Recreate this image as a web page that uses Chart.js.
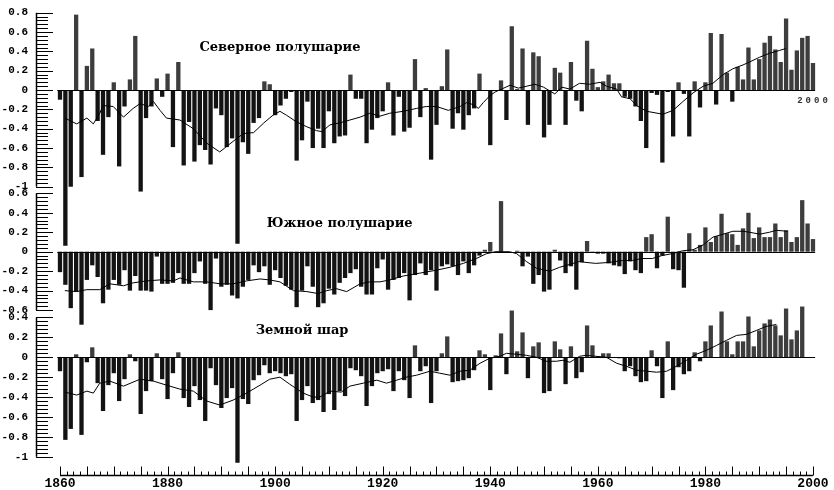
<!DOCTYPE html>
<html>
<head>
<meta charset="utf-8">
<script src="https://cdn.jsdelivr.net/npm/chart.js@4.4.0/dist/chart.umd.min.js"></script>
<style>
  html, body { margin: 0; padding: 0; background: #fff; }
</style>
</head>
<body>
<canvas id="chart" width="834" height="490"></canvas>
<script>
// годы 1860-2000
const firstYear = 1860;
const lastYear = 2000;
const years = [];
for (let y = firstYear; y <= lastYear; y++) years.push(y);

// Северное полушарие, аномалии по годам
const nhValues = [
  -0.10, -1.61, -1.00, 0.78, -0.90, 0.25, 0.43, -0.32, -0.67, -0.28,
  0.08, -0.79, -0.17, 0.11, 0.56, -1.05, -0.29, -0.17, 0.12, -0.07,
  0.17, -0.59, 0.29, -0.78, -0.33, -0.74, -0.57, -0.62, -0.77, -0.19,
  -0.26, -0.59, -0.50, -1.59, -0.54, -0.66, -0.34, -0.29, 0.09, 0.06,
  -0.26, -0.16, -0.09, -0.02, -0.73, -0.52, -0.12, -0.60, -0.40, -0.60,
  -0.22, -0.55, -0.48, -0.47, 0.16, -0.09, -0.09, -0.55, -0.41, -0.29,
  -0.22, 0.08, -0.47, -0.07, -0.43, -0.39, 0.32, -0.28, 0.02, -0.72,
  -0.36, 0.04, 0.42, -0.40, -0.24, -0.41, -0.26, -0.19, 0.17, -0.01,
  -0.57, 0.00, 0.10, -0.31, 0.66, 0.01, 0.43, -0.36, 0.39, 0.35,
  -0.49, -0.36, 0.23, 0.18, -0.36, 0.29, -0.11, -0.22, 0.51, 0.22,
  0.03, 0.09, 0.16, 0.07, 0.07, -0.07, -0.09, -0.17, -0.32, -0.60,
  -0.03, -0.05, -0.75, -0.02, -0.48, 0.08, -0.04, -0.48, 0.09, -0.18,
  0.08, 0.59, -0.15, 0.58, 0.18, -0.12, 0.24, 0.11, 0.44, 0.11,
  0.32, 0.49, 0.56, 0.42, 0.29, 0.74, 0.21, 0.41, 0.54, 0.56,
  0.28
];

// Южное полушарие
const shValues = [
  -0.21, -0.34, -0.58, -0.41, -0.75, -0.29, -0.14, -0.26, -0.53, -0.39,
  -0.29, -0.34, -0.19, -0.40, -0.25, -0.40, -0.40, -0.41, -0.05, -0.33,
  -0.33, -0.32, -0.22, -0.33, -0.33, -0.22, -0.10, -0.33, -0.60, -0.07,
  -0.36, -0.34, -0.45, -0.48, -0.36, -0.29, -0.14, -0.21, -0.15, -0.34,
  -0.19, -0.27, -0.35, -0.39, -0.57, -0.40, -0.15, -0.36, -0.57, -0.53,
  -0.38, -0.44, -0.32, -0.27, -0.22, -0.18, -0.36, -0.44, -0.44, -0.17,
  -0.08, -0.39, -0.29, -0.27, -0.22, -0.50, -0.24, -0.12, -0.24, -0.19,
  -0.40, -0.15, -0.13, -0.15, -0.24, -0.10, -0.22, -0.14, -0.04, 0.02,
  0.10, -0.01, 0.52, 0.00, 0.00, 0.01, -0.15, -0.05, -0.33, -0.24,
  -0.41, -0.39, 0.02, -0.09, -0.22, -0.15, -0.39, -0.11, 0.11, -0.01,
  -0.02, -0.02, -0.12, -0.14, -0.15, -0.23, -0.10, -0.19, -0.22, 0.15,
  0.18, -0.17, -0.04, 0.36, -0.18, -0.19, -0.37, 0.19, 0.02, 0.07,
  0.25, 0.10, 0.16, 0.39, 0.19, 0.18, 0.07, 0.24, 0.40, 0.14,
  0.25, 0.15, 0.15, 0.29, 0.15, 0.22, 0.10, 0.15, 0.53, 0.29,
  0.13
];

// Земной шар
const glValues = [
  -0.14, -0.83, -0.72, 0.03, -0.78, -0.05, 0.10, -0.26, -0.54, -0.28,
  -0.16, -0.44, -0.22, 0.03, -0.04, -0.57, -0.34, -0.24, 0.04, -0.22,
  -0.42, -0.16, 0.05, -0.41, -0.50, -0.29, -0.43, -0.64, -0.11, -0.28,
  -0.51, -0.41, -0.31, -1.06, -0.42, -0.47, -0.23, -0.18, -0.08, -0.16,
  -0.14, -0.16, -0.19, -0.17, -0.64, -0.43, -0.29, -0.46, -0.43, -0.55,
  -0.37, -0.53, -0.34, -0.39, -0.11, -0.13, -0.19, -0.49, -0.29, -0.16,
  -0.14, -0.12, -0.34, -0.14, -0.23, -0.41, 0.12, -0.14, -0.09, -0.46,
  -0.14, 0.04, 0.21, -0.25, -0.24, -0.23, -0.21, -0.13, 0.07, 0.03,
  -0.33, 0.02, 0.24, -0.17, 0.47, 0.06, 0.25, -0.21, 0.11, 0.15,
  -0.36, -0.34, 0.16, 0.08, -0.27, 0.11, -0.21, -0.15, 0.32, 0.12,
  0.01, 0.04, 0.04, 0.00, -0.01, -0.14, -0.09, -0.19, -0.25, -0.24,
  0.07, -0.09, -0.41, 0.16, -0.33, -0.10, -0.17, -0.14, 0.05, -0.04,
  0.16, 0.32, 0.00, 0.46, 0.16, 0.03, 0.16, 0.16, 0.41, 0.11,
  0.27, 0.34, 0.38, 0.32, 0.22, 0.49, 0.18, 0.27, 0.51, null,
  null
];

// сглаженные кривые
const nhLineYears = [1860.9, 1863.1, 1865.0, 1866.2, 1867.4, 1868.0, 1869.9, 1871.8, 1873.6, 1874.9,
  1876.4, 1877.4, 1878.6, 1879.8, 1882.3, 1884.8, 1887.3, 1889.7, 1892.2, 1894.1,
  1896.0, 1897.9, 1899.6, 1900.9, 1902.1, 1904.0, 1905.9, 1907.7, 1908.7, 1910.2,
  1912.0, 1913.9, 1915.8, 1917.6, 1919.5, 1921.3, 1923.8, 1926.3, 1928.1, 1930.0,
  1932.2, 1934.4, 1935.6, 1936.8, 1937.8, 1938.7, 1939.9, 1940.9, 1942.1, 1943.7,
  1945.2, 1946.8, 1948.3, 1949.9, 1951.4, 1952.0, 1953.3, 1954.8, 1956.6, 1958.5,
  1960.4, 1961.6, 1963.5, 1964.4, 1966.0, 1967.2, 1969.1, 1972.1, 1974.0, 1975.8,
  1977.7, 1979.6, 1981.4, 1983.3, 1985.1, 1987.0, 1988.2, 1990.1, 1991.9, 1993.8, 1995.0];
const nhLineValues = [-0.29, -0.35, -0.29, -0.35, -0.24, -0.16, -0.17, -0.28, -0.19, -0.14,
  -0.17, -0.12, -0.21, -0.29, -0.31, -0.40, -0.55, -0.64, -0.53, -0.45,
  -0.44, -0.34, -0.26, -0.22, -0.26, -0.33, -0.38, -0.42, -0.43, -0.36,
  -0.34, -0.31, -0.28, -0.24, -0.27, -0.24, -0.22, -0.19, -0.17, -0.17,
  -0.21, -0.17, -0.13, -0.15, -0.19, -0.13, -0.06, -0.02, 0.01, 0.05,
  0.02, 0.04, 0.06, 0.03, -0.02, -0.04, 0.03, 0.01, 0.07, 0.06,
  0.08, 0.04, 0.01, -0.07, -0.09, -0.16, -0.22, -0.25, -0.21, -0.12,
  -0.03, 0.04, 0.07, 0.16, 0.22, 0.26, 0.29, 0.34, 0.38, 0.41, 0.43];

const shLineYears = [1860.9, 1863.1, 1865.0, 1867.4, 1869.3, 1871.8, 1873.6, 1876.1, 1878.6, 1881.1,
  1882.3, 1884.8, 1887.3, 1889.8, 1892.2, 1894.7, 1897.2, 1899.0, 1900.9, 1903.4,
  1905.9, 1908.0, 1909.6, 1911.4, 1913.3, 1915.8, 1917.6, 1919.5, 1921.3, 1923.8,
  1926.9, 1930.0, 1932.5, 1935.0, 1937.4, 1939.3, 1941.1, 1943.6, 1944.9, 1946.7,
  1948.6, 1951.1, 1952.9, 1954.8, 1956.6, 1957.8, 1959.6, 1962.1, 1964.6, 1966.4,
  1968.2, 1970.1, 1971.9, 1973.8, 1975.8, 1977.7, 1979.6, 1981.4, 1983.3, 1985.1,
  1987.0, 1988.2, 1990.1, 1991.9, 1993.2, 1995.3];
const shLineValues = [-0.40, -0.41, -0.39, -0.39, -0.33, -0.35, -0.32, -0.30, -0.29, -0.30,
  -0.27, -0.31, -0.31, -0.33, -0.33, -0.30, -0.28, -0.29, -0.31, -0.40,
  -0.41, -0.43, -0.40, -0.38, -0.41, -0.33, -0.31, -0.31, -0.29, -0.25,
  -0.22, -0.19, -0.16, -0.12, -0.07, -0.02, 0.00, 0.00, -0.02, -0.10,
  -0.17, -0.20, -0.16, -0.13, -0.10, -0.11, -0.12, -0.11, -0.09, -0.09,
  -0.07, -0.07, -0.04, -0.02, 0.01, 0.02, 0.07, 0.15, 0.18, 0.21,
  0.21, 0.20, 0.18, 0.20, 0.22, 0.21];

const glLineYears = [1860.9, 1863.1, 1865.0, 1866.2, 1867.4, 1869.3, 1871.8, 1874.9, 1877.4, 1879.8,
  1882.3, 1884.8, 1887.3, 1889.7, 1892.2, 1894.7, 1897.2, 1899.0, 1900.9, 1902.7,
  1905.2, 1907.1, 1908.3, 1910.2, 1912.3, 1913.9, 1916.4, 1918.9, 1920.7, 1922.6,
  1924.4, 1926.3, 1928.8, 1930.6, 1932.5, 1934.4, 1936.2, 1938.1, 1939.9, 1941.8,
  1943.0, 1944.9, 1946.7, 1948.6, 1950.4, 1952.3, 1953.5, 1954.8, 1956.6, 1957.8,
  1959.6, 1961.6, 1963.5, 1965.3, 1967.2, 1969.1, 1970.9, 1972.8, 1974.6, 1976.5,
  1978.3, 1980.2, 1982.1, 1983.9, 1985.8, 1987.6, 1989.5, 1991.3, 1993.2];
const glLineValues = [-0.35, -0.38, -0.34, -0.36, -0.26, -0.24, -0.29, -0.22, -0.24, -0.28,
  -0.32, -0.34, -0.44, -0.48, -0.43, -0.36, -0.28, -0.22, -0.20, -0.27,
  -0.36, -0.40, -0.40, -0.34, -0.35, -0.29, -0.26, -0.23, -0.26, -0.23,
  -0.20, -0.18, -0.14, -0.16, -0.18, -0.14, -0.13, -0.06, -0.01, 0.01,
  0.04, 0.03, 0.02, 0.00, -0.04, -0.04, -0.03, -0.05, 0.01, 0.02,
  0.01, 0.00, -0.06, -0.09, -0.13, -0.14, -0.15, -0.14, -0.09, -0.03,
  0.03, 0.07, 0.12, 0.17, 0.22, 0.23, 0.27, 0.31, 0.33];

// подписи осей
const nhTicks = [0.8, 0.6, 0.4, 0.2, 0, -0.2, -0.4, -0.6, -0.8, -1];
const shTicks = [0.6, 0.4, 0.2, 0, -0.2, -0.4, -0.6];
const glTicks = [0.4, 0.2, 0, -0.2, -0.4, -0.6, -0.8, -1];
const xTicks = [1860, 1880, 1900, 1920, 1940, 1960, 1980, 2000];

const panels = [
  { id: 'yN', ticks: nhTicks, title: 'Северное полушарие', tx: 1900.9, ty: 0.44 },
  { id: 'yS', ticks: shTicks, title: 'Южное полушарие', tx: 1912, ty: 0.285 },
  { id: 'yG', ticks: glTicks, title: 'Земной шар', tx: 1905, ty: 0.27 }
];

const barSet = (id, vals) => ({
  type: 'bar',
  yAxisID: id,
  grouped: false,
  clip: false,
  data: vals.map((v, i) => ({ x: years[i], y: v })),
  backgroundColor: c => (c.raw && c.raw.y >= 0) ? '#3d3d3d' : '#131313',
  barPercentage: 0.8,
  categoryPercentage: 1,
  order: 2
});

const lineSet = (id, xs, vs) => ({
  type: 'line',
  yAxisID: id,
  clip: false,
  data: xs.map((x, i) => ({ x: x, y: vs[i] })),
  borderColor: '#000',
  borderWidth: 1,
  pointRadius: 0,
  tension: 0,
  order: 1
});

const fmt = v => v === 0 ? '0' : String(v);

const yScale = (tickList, min, max, stackWeight, weight) => ({
  type: 'linear',
  position: 'left',
  stack: 'panels',
  stackWeight: stackWeight,
  weight: weight,
  min: min,
  max: max,
  grid: { display: false, drawTicks: true, tickLength: 8 },
  border: { display: false },
  ticks: {
    autoSkip: false,
    padding: 0,
    color: '#000',
    font: { family: 'Liberation Mono', weight: 'bold', size: 11 },
    callback: fmt
  },
  afterBuildTicks: s => { s.ticks = tickList.map(v => ({ value: v })); },
  afterFit: s => { s.width = 36; }
});

// оси, нулевые линии, заголовки
const decor = {
  id: 'decor',
  afterDraw(chart) {
    const { ctx, scales, chartArea } = chart;
    const x = scales.x;
    const ax = chartArea.left;
    ctx.save();
    ctx.strokeStyle = '#000';
    ctx.fillStyle = '#000';

    panels.forEach(p => {
      const s = scales[p.id];
      const hi = p.ticks[0], lo = p.ticks[p.ticks.length - 1];
      ctx.lineWidth = 1.5;
      ctx.beginPath();
      ctx.moveTo(ax + 0.5, s.getPixelForValue(hi));
      ctx.lineTo(ax + 0.5, s.getPixelForValue(lo));
      ctx.stroke();
      ctx.lineWidth = 1;
      const n = Math.round((hi - lo) / 0.04);
      for (let i = 0; i <= n; i++) {
        const v = hi - i * 0.04;
        const major = Math.abs(v / 0.2 - Math.round(v / 0.2)) < 1e-6;
        const py = Math.round(s.getPixelForValue(v)) + 0.5;
        ctx.beginPath();
        ctx.moveTo(ax, py);
        ctx.lineTo(ax + (major ? 17 : 12), py);
        ctx.stroke();
      }
      // нулевая линия
      const zy = Math.round(s.getPixelForValue(0)) + 0.5;
      ctx.beginPath();
      ctx.moveTo(x.getPixelForValue(firstYear - 0.5), zy);
      ctx.lineTo(x.getPixelForValue(lastYear + 0.4), zy);
      ctx.stroke();
      // заголовок
      ctx.font = 'bold 13px "DejaVu Serif"';
      ctx.textAlign = 'center';
      ctx.textBaseline = 'middle';
      ctx.fillText(p.title, x.getPixelForValue(p.tx), s.getPixelForValue(p.ty));
    });

    // ось X
    const by = chartArea.bottom + 1.5;
    ctx.lineWidth = 1.5;
    ctx.beginPath();
    ctx.moveTo(x.getPixelForValue(firstYear), by);
    ctx.lineTo(x.getPixelForValue(lastYear), by);
    ctx.stroke();
    ctx.lineWidth = 1;
    for (let i = 0; i <= (lastYear - firstYear) / 1.25; i++) {
      const v = firstYear + i * 1.25;
      const px = Math.round(x.getPixelForValue(v)) + 0.5;
      const h = (i % 4 === 0) ? 9 : 4;
      ctx.beginPath();
      ctx.moveTo(px, by);
      ctx.lineTo(px, by - h);
      ctx.stroke();
    }

    // подпись 2000 у верхней панели
    const yN = scales.yN;
    ctx.font = 'bold 9px "Liberation Mono"';
    ctx.fillStyle = '#333';
    ctx.letterSpacing = '3px';
    ctx.textAlign = 'center';
    ctx.textBaseline = 'middle';
    ctx.fillText('2000', x.getPixelForValue(lastYear) + 1, yN.getPixelForValue(-0.11));
    ctx.restore();
  }
};

new Chart(document.getElementById('chart'), {
  type: 'bar',
  data: {
    datasets: [
      barSet('yN', nhValues),
      barSet('yS', shValues),
      barSet('yG', glValues),
      lineSet('yN', nhLineYears, nhLineValues),
      lineSet('yS', shLineYears, shLineValues),
      lineSet('yG', glLineYears, glLineValues)
    ]
  },
  options: {
    responsive: false,
    animation: false,
    devicePixelRatio: 1,
    layout: { padding: { top: 10, right: 10, left: 0, bottom: 0 } },
    plugins: { legend: { display: false }, tooltip: { enabled: false } },
    scales: {
      x: {
        type: 'linear',
        position: 'bottom',
        offset: false,
        min: 1855.54,
        max: 2002.05,
        grid: { display: false, drawTicks: false },
        border: { display: false },
        ticks: {
          autoSkip: false,
          maxRotation: 0,
          padding: 2,
          color: '#000',
          font: { family: 'Liberation Mono', weight: 'bold', size: 13 },
          callback: v => String(v)
        },
        afterBuildTicks: s => { s.ticks = xTicks.map(v => ({ value: v })); },
        afterFit: s => { s.height = 16; }
      },
      yN: yScale(nhTicks, -1.039, 0.828, 180.5, 3),
      yS: yScale(shTicks, -0.635, 0.629, 123, 2),
      yG: yScale(glTicks, -1.173, 0.44, 160.5, 1)
    }
  },
  plugins: [decor]
});
</script>
</body>
</html>
